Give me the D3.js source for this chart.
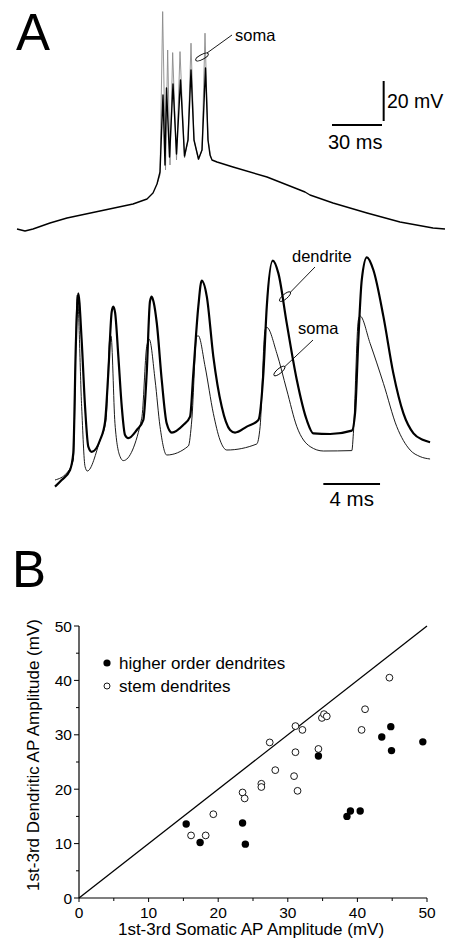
<!DOCTYPE html>
<html>
<head>
<meta charset="utf-8">
<script src="https://cdn.jsdelivr.net/npm/d3@7"></script>
<style>
  body { margin: 0; background: #fff; }
  text { font-family: "Liberation Sans", Arial, sans-serif; fill: #000; }
</style>
</head>
<body>
<div id="fig"></div>
<script>
var width = 460, height = 950;

// ---- panel A, upper trace: [time (ms), voltage above rest (mV)] ----
var somaBurst = [
  [0, 0], [4.8, -1], [9.6, 0], [19.8, 3], [30, 5.5], [49.8, 9], [69.6, 12.5],
  [78, 15], [81.6, 18], [84, 22.5], [85.8, 28.5], [87, 54.5], [87.6, 67],
  [88.8, 32], [89.7, 70.5], [91.5, 36], [93.6, 72.5], [95.7, 37.5], [98.1, 74.5],
  [100.5, 36.5], [102.6, 44.5], [104.4, 79.5], [106.2, 44.5], [108.9, 35],
  [111, 39.5], [113.1, 80.5], [114.6, 44.5], [115.8, 37], [117, 34.5],
  [120, 33.5], [129.6, 31], [150, 26], [169.8, 19.5], [172.8, 18.5], [175.8, 17],
  [189.6, 13], [210, 8], [229.8, 3.5], [249.6, 0.5], [256.8, 0]
];
var dendBurst = [
  [84, 22.5], [85.8, 27], [87.4, 108.7], [89.1, 29.5], [90.4, 89.5], [91.8, 32],
  [93.4, 88.2], [95.7, 34.5], [97.8, 88.7], [100.5, 35.5], [102.6, 44.5],
  [104.4, 92.9], [106.2, 44.5], [108.9, 34.5], [111, 39.5], [112.8, 97.9],
  [114.6, 44.5], [116.4, 35.5]
];

// ---- panel A, lower traces (expanded time base) ----
var dendSpikes = [
  [0, 0.1], [0.47, 1.75], [1.06, 4.25], [1.29, 8.5], [1.48, 36.75], [1.64, 48.4],
  [1.88, 36.75], [2.12, 20.1], [2.35, 10.1], [2.59, 8.8], [3.18, 11.75],
  [3.53, 16.3], [3.76, 28.5], [4.0, 43.8], [4.11, 45.1], [4.24, 43.6], [4.47, 32.6],
  [4.71, 20.1], [4.94, 13],
  [5.17, 12.2], [5.77, 14.25], [6.23, 16.75], [6.47, 28.5], [6.7, 46.4], [6.82, 47.6],
  [6.96, 46.2], [7.18, 41], [7.53, 26.75], [7.88, 15.9], [8.24, 13.6], [9.05, 15.5],
  [9.53, 17.6], [9.76, 28.5], [10.11, 45.1], [10.35, 51.6], [10.71, 47.6],
  [11.17, 32.6], [11.76, 20.1], [12.35, 14.25], [12.7, 13.6], [13.53, 15.1],
  [14.35, 16.75], [14.7, 28.4], [14.94, 45.1], [15.36, 56.6], [15.76, 53.4],
  [16.35, 40.9], [17.06, 26.75], [17.76, 16.75], [18.23, 13.4], [19.41, 13.25],
  [20.94, 14.1], [21.17, 18.5], [21.4, 36.75], [21.64, 51.75], [22.0, 57.4],
  [22.46, 54.25], [23.17, 42.6], [23.87, 28.4], [24.58, 18.4], [25.29, 13.4],
  [25.99, 11.75], [26.46, 11.2]
];
var somaSpikes = [
  [0, 1.75], [0.83, 3.5], [1.29, 6.75], [1.57, 48], [1.88, 20.1], [2.12, 5.1],
  [2.28, 4], [3.18, 11.75], [3.6, 16.75], [3.88, 37.6], [3.95, 37.8],
  [4.23, 15.9], [4.59, 7.6], [4.82, 6.6], [6.12, 17.2], [6.47, 35.1],
  [6.65, 36.9], [7.06, 26.75], [7.41, 15.1], [7.88, 8], [9.41, 10.25],
  [9.65, 16.75], [10.0, 37.6], [10.11, 37.8], [10.59, 30.1], [11.17, 18.4],
  [11.64, 11.75], [12.12, 9.25], [14.23, 10.75], [14.47, 15.1], [14.82, 39.25],
  [14.94, 39.9], [15.65, 33.4], [16.35, 24.25], [17.06, 15.1], [18.0, 10.1],
  [18.93, 9], [20.94, 9.1], [21.05, 13.4], [21.4, 41.75], [21.52, 42.75],
  [22.23, 35.9], [23.17, 25.9], [24.11, 15.1], [25.05, 9.25], [25.76, 7.6],
  [26.46, 7]
];

// ---- panel B: [somatic amplitude, dendritic amplitude] (mV) ----
var higherOrder = [
  [15.4, 13.6], [17.4, 10.2], [23.5, 13.8], [23.9, 9.9], [34.4, 26.1],
  [38.5, 15.0], [39.0, 16.0], [40.4, 16.0], [43.5, 29.6], [44.8, 31.5],
  [44.9, 27.1], [49.4, 28.7]
];
var stemDendrites = [
  [16.1, 11.5], [18.2, 11.5], [19.3, 15.4], [23.5, 19.4], [23.8, 18.3],
  [26.2, 21.0], [26.2, 20.4], [27.4, 28.6], [28.2, 23.5], [30.9, 22.4],
  [31.1, 31.6], [31.1, 26.8], [31.4, 19.7], [32.1, 30.9], [34.4, 27.4],
  [34.9, 33.1], [35.2, 33.8], [35.6, 33.4], [40.6, 30.9], [41.1, 34.7],
  [44.6, 40.5]
];
var unityLine = [0, 50];
var majorTicks = [0, 10, 20, 30, 40, 50];
var minorTicks = [5, 15, 25, 35, 45];
var legendLabels = ['higher order dendrites', 'stem dendrites'];

var svg = d3.select('#fig').append('svg')
  .attr('width', width).attr('height', height);
svg.append('rect').attr('width', width).attr('height', height).attr('fill', '#fff');

// panel letters
svg.append('text').attr('x', 16).attr('y', 50).attr('font-size', 51).text('A');
svg.append('text').attr('x', 12).attr('y', 587).attr('font-size', 51).text('B');

// ===== upper trace =====
var xA = d3.scaleLinear().domain([0, 30]).range([17, 67]);
var yA = d3.scaleLinear().domain([0, 20]).range([229, 189]);
var lineA = d3.line().x(function(d){ return xA(d[0]); }).y(function(d){ return yA(d[1]); });

svg.append('path').datum(dendBurst).attr('d', lineA)
  .attr('fill', 'none').attr('stroke', '#8a8a8a').attr('stroke-width', 0.9);
svg.append('path').datum(somaBurst).attr('d', lineA)
  .attr('fill', 'none').attr('stroke', '#000').attr('stroke-width', 1.4)
  .attr('stroke-linejoin', 'round');

// scale bars (30 ms, 20 mV)
var barT0 = 189, barV0 = 52;
svg.append('line')
  .attr('x1', xA(barT0)).attr('x2', xA(barT0 + 30))
  .attr('y1', yA(barV0)).attr('y2', yA(barV0))
  .attr('stroke', '#000').attr('stroke-width', 2);
svg.append('line')
  .attr('x1', xA(barT0 + 31)).attr('x2', xA(barT0 + 31))
  .attr('y1', yA(barV0 + 2)).attr('y2', yA(barV0 + 22))
  .attr('stroke', '#000').attr('stroke-width', 2);
svg.append('text').attr('x', xA(barT0 + 33)).attr('y', 108).attr('font-size', 19.5).text('20 mV');
svg.append('text').attr('x', xA(barT0) - 4).attr('y', 149).attr('font-size', 20).text('30 ms');

// leader tags
function tag(x, y, tx, ty, angle) {
  svg.append('ellipse').attr('cx', 0).attr('cy', 0).attr('rx', 7).attr('ry', 2.4)
    .attr('transform', 'translate(' + x + ',' + y + ') rotate(' + angle + ')')
    .attr('fill', 'none').attr('stroke', '#000').attr('stroke-width', 0.9);
  svg.append('line').attr('x1', x + 5).attr('y1', y - 4).attr('x2', tx).attr('y2', ty)
    .attr('stroke', '#000').attr('stroke-width', 0.9);
}
tag(xA(111), yA(86), 232, 35, -28);
svg.append('text').attr('x', 235).attr('y', 41).attr('font-size', 16.5).text('soma');

// ===== lower traces =====
var xB = d3.scaleLinear().domain([0, 4]).range([55, 111.7]);
var yB = d3.scaleLinear().domain([0, 10]).range([487, 447]);
var lineB = d3.line().curve(d3.curveMonotoneX)
  .x(function(d){ return xB(d[0]); }).y(function(d){ return yB(d[1]); });

svg.append('path').datum(somaSpikes).attr('d', lineB)
  .attr('fill', 'none').attr('stroke', '#000').attr('stroke-width', 0.9);
svg.append('path').datum(dendSpikes).attr('d', lineB)
  .attr('fill', 'none').attr('stroke', '#000').attr('stroke-width', 2.2)
  .attr('stroke-linejoin', 'round');

var bar4 = 18.93;
svg.append('line')
  .attr('x1', xB(bar4)).attr('x2', xB(bar4 + 4))
  .attr('y1', 484).attr('y2', 484)
  .attr('stroke', '#000').attr('stroke-width', 2);
svg.append('text').attr('x', xB(bar4 + 2)).attr('y', 506).attr('text-anchor', 'middle')
  .attr('font-size', 20.5).text('4 ms');

tag(xB(16.23), yB(47.6), 315, 267, -40);
svg.append('text').attr('x', 292).attr('y', 262).attr('font-size', 16.5).text('dendrite');
tag(xB(15.83), yB(29), 313, 340, -40);
svg.append('text').attr('x', 298).attr('y', 334).attr('font-size', 16.5).text('soma');

// ===== panel B scatter =====
var x = d3.scaleLinear().domain([0, 50]).range([79, 427]);
var y = d3.scaleLinear().domain([0, 50]).range([898, 626]);

var gx = svg.append('g').attr('transform', 'translate(0,' + y(0) + ')');
gx.append('line').attr('x1', x(0)).attr('x2', x(50)).attr('stroke', '#000').attr('stroke-width', 1.2);
gx.selectAll('.maj').data(majorTicks).enter().append('line')
  .attr('x1', x).attr('x2', x).attr('y1', 0).attr('y2', 4).attr('stroke', '#000');
gx.selectAll('.min').data(minorTicks).enter().append('line')
  .attr('x1', x).attr('x2', x).attr('y1', 0).attr('y2', 3).attr('stroke', '#000');
gx.selectAll('text').data(majorTicks).enter().append('text')
  .attr('x', x).attr('y', 20).attr('text-anchor', 'middle').attr('font-size', 15.5)
  .text(function(d){ return d; });

var gy = svg.append('g').attr('transform', 'translate(' + x(0) + ',0)');
gy.append('line').attr('y1', y(0)).attr('y2', y(50)).attr('stroke', '#000').attr('stroke-width', 1.2);
gy.selectAll('.maj').data(majorTicks).enter().append('line')
  .attr('y1', y).attr('y2', y).attr('x1', 0).attr('x2', -5).attr('stroke', '#000');
gy.selectAll('.min').data(minorTicks).enter().append('line')
  .attr('y1', y).attr('y2', y).attr('x1', 0).attr('x2', -3).attr('stroke', '#000');
gy.selectAll('text').data(majorTicks).enter().append('text')
  .attr('x', -7).attr('y', function(d){ return y(d) + 5.5; }).attr('text-anchor', 'end')
  .attr('font-size', 15.5).text(function(d){ return d; });

svg.append('text').attr('x', 251).attr('y', 935).attr('text-anchor', 'middle')
  .attr('font-size', 17).text('1st-3rd Somatic AP Amplitude (mV)');
svg.append('text').attr('transform', 'translate(39,755) rotate(-90)')
  .attr('text-anchor', 'middle').attr('font-size', 17)
  .text('1st-3rd Dendritic AP Amplitude (mV)');

// unity line
svg.append('line')
  .attr('x1', x(unityLine[0])).attr('y1', y(unityLine[0]))
  .attr('x2', x(unityLine[1])).attr('y2', y(unityLine[1]))
  .attr('stroke', '#000').attr('stroke-width', 1.3);

svg.selectAll('.stem').data(stemDendrites).enter().append('circle')
  .attr('cx', function(d){ return x(d[0]); }).attr('cy', function(d){ return y(d[1]); })
  .attr('r', 3.4).attr('fill', '#fff').attr('stroke', '#000').attr('stroke-width', 0.9);
svg.selectAll('.higher').data(higherOrder).enter().append('circle')
  .attr('cx', function(d){ return x(d[0]); }).attr('cy', function(d){ return y(d[1]); })
  .attr('r', 3.7).attr('fill', '#000');

// legend
var leg = svg.append('g').attr('transform', 'translate(107,663)');
leg.append('circle').attr('cx', 0).attr('cy', 0).attr('r', 3.6).attr('fill', '#000');
leg.append('circle').attr('cx', 0).attr('cy', 23).attr('r', 3).attr('fill', '#fff')
  .attr('stroke', '#000').attr('stroke-width', 0.9);
leg.selectAll('text').data(legendLabels).enter().append('text')
  .attr('x', 12).attr('y', function(d, i){ return 6 + i * 23; })
  .attr('font-size', 17).text(function(d){ return d; });
</script>
</body>
</html>
